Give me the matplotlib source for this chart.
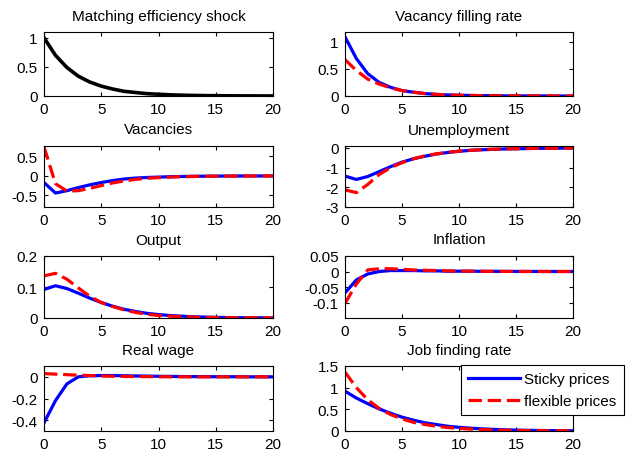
import matplotlib
matplotlib.use("Agg")
import matplotlib.pyplot as plt
from matplotlib.lines import Line2D

plt.rcParams['font.family'] = ['Liberation Sans', 'DejaVu Sans']
plt.rcParams['font.size'] = 11

t = list(range(21))

shock = [1.0, 0.70, 0.49, 0.34, 0.24, 0.17, 0.12, 0.08, 0.06, 0.04, 0.03,
         0.02, 0.014, 0.01, 0.007, 0.005, 0.003, 0.002, 0.002, 0.001, 0.001]

vfill_sticky = [1.09, 0.69, 0.41, 0.25, 0.16, 0.10, 0.07, 0.045, 0.03, 0.02, 0.014,
                0.01, 0.007, 0.005, 0.003, 0.002, 0.002, 0.001, 0.001, 0.0, 0.0]
vfill_flex = [0.67, 0.47, 0.31, 0.22, 0.15, 0.10, 0.07, 0.045, 0.03, 0.02, 0.014,
              0.01, 0.007, 0.005, 0.003, 0.002, 0.002, 0.001, 0.001, 0.0, 0.0]

vac_sticky = [-0.17, -0.44, -0.38, -0.30, -0.23, -0.17, -0.12, -0.08, -0.055, -0.04, -0.03,
              -0.02, -0.014, -0.01, -0.007, -0.005, -0.003, -0.002, -0.001, -0.001, 0.0]
vac_flex = [0.75, -0.20, -0.39, -0.38, -0.32, -0.25, -0.18, -0.13, -0.09, -0.06, -0.045,
            -0.03, -0.02, -0.014, -0.01, -0.007, -0.005, -0.003, -0.002, -0.001, 0.0]

unemp_sticky = [-1.43, -1.60, -1.45, -1.20, -0.95, -0.72, -0.55, -0.42, -0.31, -0.23, -0.17,
                -0.12, -0.09, -0.07, -0.05, -0.04, -0.03, -0.02, -0.015, -0.01, -0.008]
unemp_flex = [-2.13, -2.27, -1.85, -1.35, -1.00, -0.75, -0.55, -0.40, -0.30, -0.22, -0.16,
              -0.12, -0.09, -0.065, -0.05, -0.035, -0.025, -0.018, -0.013, -0.01, -0.007]

out_sticky = [0.092, 0.104, 0.095, 0.080, 0.064, 0.050, 0.038, 0.028, 0.021, 0.015, 0.011,
              0.008, 0.006, 0.004, 0.003, 0.002, 0.0015, 0.001, 0.0008, 0.0005, 0.0003]
out_flex = [0.136, 0.144, 0.125, 0.097, 0.070, 0.050, 0.037, 0.026, 0.018, 0.012, 0.008,
            0.006, 0.004, 0.003, 0.002, 0.0015, 0.001, 0.0007, 0.0005, 0.0003, 0.0002]

infl_sticky = [-0.069, -0.027, -0.008, 0.0, 0.003, 0.003, 0.003, 0.002, 0.002, 0.001, 0.001,
               0.001, 0.0005, 0.0005, 0.0003, 0.0002, 0.0001, 0.0001, 0.0, 0.0, 0.0]
infl_flex = [-0.103, -0.040, 0.005, 0.009, 0.009, 0.007, 0.005, 0.004, 0.003, 0.002, 0.0015,
             0.001, 0.0007, 0.0005, 0.0003, 0.0002, 0.0001, 0.0001, 0.0, 0.0, 0.0]

wage_sticky = [-0.425, -0.22, -0.065, 0.0, 0.010, 0.012, 0.012, 0.010, 0.008, 0.007, 0.005,
               0.004, 0.003, 0.002, 0.002, 0.001, 0.001, 0.001, 0.0, 0.0, 0.0]
wage_flex = [0.030, 0.025, 0.020, 0.015, 0.012, 0.008, 0.005, 0.004, 0.003, 0.002, 0.001,
             0.0, 0.0, 0.0, 0.0, 0.0, 0.0, 0.0, 0.0, 0.0, 0.0]

jfr_sticky = [0.92, 0.76, 0.63, 0.51, 0.41, 0.32, 0.25, 0.19, 0.15, 0.11, 0.085,
              0.065, 0.05, 0.038, 0.028, 0.021, 0.016, 0.012, 0.009, 0.007, 0.005]
jfr_flex = [1.36, 1.00, 0.72, 0.52, 0.38, 0.28, 0.20, 0.15, 0.11, 0.08, 0.06,
            0.044, 0.032, 0.024, 0.017, 0.013, 0.009, 0.007, 0.005, 0.004, 0.003]

titles = ["Matching efficiency shock", "Vacancy filling rate", "Vacancies", "Unemployment",
          "Output", "Inflation", "Real wage", "Job finding rate"]
series = [(shock, None), (vfill_sticky, vfill_flex), (vac_sticky, vac_flex),
          (unemp_sticky, unemp_flex), (out_sticky, out_flex), (infl_sticky, infl_flex),
          (wage_sticky, wage_flex), (jfr_sticky, jfr_flex)]
ylims = [(0, 1.1), (0, 1.18), (-0.8, 0.77), (-3, 0.1), (0, 0.2), (-0.15, 0.05),
         (-0.5, 0.1), (0, 1.5)]
yticks = [[0, 0.5, 1], [0, 0.5, 1], [-0.5, 0, 0.5], [-3, -2, -1, 0], [0, 0.1, 0.2],
          [-0.1, -0.05, 0, 0.05], [-0.4, -0.2, 0], [0, 0.5, 1, 1.5]]
ytlabels = [["0", "0.5", "1"], ["0", "0.5", "1"], ["-0.5", "0", "0.5"],
            ["-3", "-2", "-1", "0"], ["0", "0.1", "0.2"],
            ["-0.1", "-0.05", "0", "0.05"], ["-0.4", "-0.2", "0"],
            ["0", "0.5", "1", "1.5"]]
xticks = [0, 5, 10, 15, 20]

W, H = 627, 452
fig = plt.figure(figsize=(W / 100, H / 100), dpi=100)
rows = [(33, 97), (147, 208), (257, 319), (367, 432)]
cols = [(44, 273), (345, 573)]

LW = 2.3
DASH = (0, (4.2, 1.8))

for i in range(8):
    r, c = divmod(i, 2)
    top, bot = rows[r]
    lft, rgt = cols[c]
    ax = fig.add_axes([lft / W, 1 - bot / H, (rgt - lft) / W, (bot - top) / H])
    s, f = series[i]
    if f is None:
        ax.plot(t, s, color='black', lw=LW + 0.3)
    else:
        ax.plot(t, s, color='#0000ff', lw=LW, label='Sticky prices')
        ax.plot(t, f, color='#ff0000', lw=LW, ls=DASH, label='flexible prices')
    ax.set_xlim(0, 20)
    ax.set_ylim(*ylims[i])
    ax.set_xticks(xticks)
    ax.set_xticklabels([str(x) for x in xticks])
    ax.set_yticks(yticks[i])
    ax.set_yticklabels(ytlabels[i])
    ax.tick_params(direction='in', length=3, width=0.8, top=True, right=True,
                   labelsize=11)
    ax.tick_params(axis='x', pad=4)
    ax.tick_params(axis='y', pad=4.5)
    for sp in ax.spines.values():
        sp.set_linewidth(0.8)
    ax.set_title(titles[i], fontsize=11, pad=9)

handles = [Line2D([], [], color='#0000ff', lw=LW),
           Line2D([], [], color='#ff0000', lw=LW, ls=DASH)]
leg = fig.legend(handles, ['Sticky prices', 'flexible prices'],
                 loc='upper left', bbox_to_anchor=(461 / W, 1 - 366 / H),
                 frameon=True, fancybox=False, edgecolor='black', framealpha=1,
                 handlelength=3.4, fontsize=11, borderpad=0.45, labelspacing=0.55,
                 handletextpad=0.3, borderaxespad=0)
leg.get_frame().set_linewidth(0.8)

fig.savefig("out.png", dpi=100)
